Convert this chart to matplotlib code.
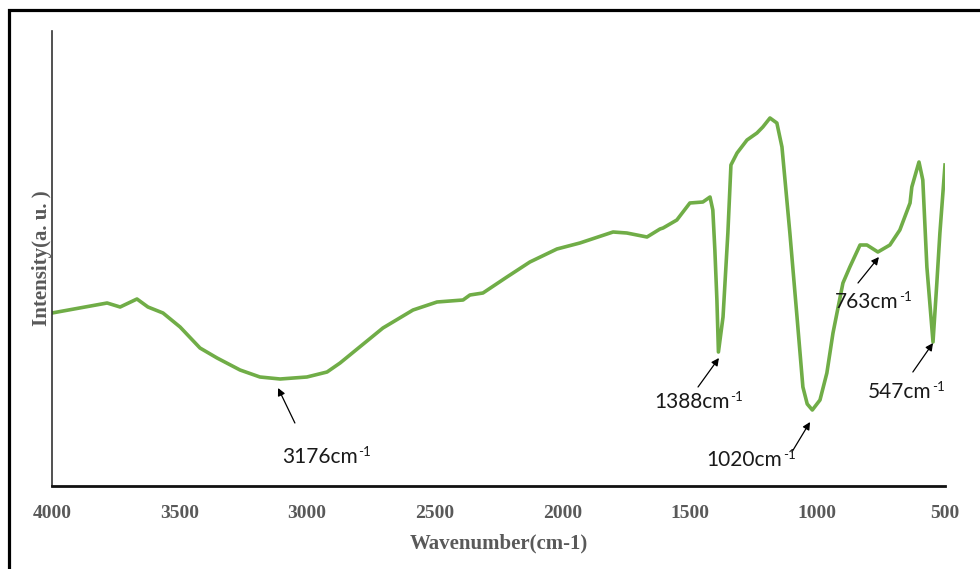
import matplotlib
matplotlib.use("Agg")
import matplotlib.pyplot as plt
from matplotlib.patches import Rectangle

# FTIR spectrum (wavenumber in cm-1, intensity in a.u.)
wavenumber = [4000, 3784, 3733, 3667, 3624, 3565, 3498, 3420, 3353, 3263,
              3185, 3106, 3001, 2922, 2871, 2703, 2585, 2491, 2389, 2362,
              2311, 2217, 2127, 2021, 1931, 1801, 1747, 1668, 1617, 1605,
              1551, 1500, 1449, 1421, 1410, 1402, 1394, 1388, 1370, 1351,
              1339, 1315, 1276, 1237, 1214, 1186, 1159, 1139, 1108, 1080,
              1057, 1040, 1020, 990, 963, 939, 900, 873, 833, 806,
              763, 716, 677, 637, 630, 602, 587, 571, 547, 532,
              520, 500]
intensity = [173, 183, 179, 187, 179, 173, 159, 138, 128, 116,
             109, 107, 109, 114, 123, 158, 176, 184, 186, 191,
             193, 209, 224, 237, 243, 254, 253, 249, 257, 258,
             266, 283, 284, 289, 276, 236, 186, 134, 169, 253,
             321, 333, 346, 353, 359, 368, 363, 339, 253, 169,
             99, 82, 76, 86, 113, 153, 203, 219, 241, 241,
             234, 241, 256, 283, 299, 324, 306, 219, 144, 203,
             253, 321]

# peak labels: (label, arrow head, arrow tail, text centre)
peak_labels = ["3176", "1388", "1020", "763", "547"]
arrow_heads = [(3114, 98), (1386, 128), (1029, 64), (759, 229), (547, 143)]
arrow_tails = [(3048, 63), (1468, 99), (1100, 34), (841, 203), (626, 114)]
text_pos = [(2950, 29), (1493, 84), (1286, 26), (808, 184), (679, 94)]

W, H = 980, 569
fig = plt.figure(figsize=(W / 100, H / 100), dpi=100)
ax = fig.add_axes([52 / W, 1 - 486 / H, (945 - 52) / W, (486 - 31) / H])

ax.plot(wavenumber, intensity, color="#70ad47", lw=2.6, solid_joinstyle="round")
ax.set_xlim(4000, 500)
ax.set_ylim(0, 455)

for lab, head, tail, pos in zip(peak_labels, arrow_heads, arrow_tails, text_pos):
    ax.annotate("", xy=head, xytext=tail,
                arrowprops=dict(arrowstyle="-|>", color="black", lw=0.9,
                                mutation_scale=11, shrinkA=0, shrinkB=0))
    t = ax.text(pos[0], pos[1], lab + "cm", ha="center", va="center",
                fontsize=15, family="Lato", color="#1a1a1a")
    # small "-1" superscript right after the unit
    ax.annotate("-1", xy=(1, 1), xycoords=t, xytext=(0.5, 1), textcoords="offset points",
                ha="left", va="top", fontsize=9.5, family="Lato", color="#1a1a1a")

for side in ["top", "right"]:
    ax.spines[side].set_visible(False)
ax.spines["left"].set_color("#333333")
ax.spines["left"].set_linewidth(1.2)
ax.spines["bottom"].set_color("#111111")
ax.spines["bottom"].set_linewidth(2)

ax.set_xticks([4000, 3500, 3000, 2500, 2000, 1500, 1000, 500])
ax.set_yticks([])
ax.tick_params(axis="x", length=0, pad=14)
for t in ax.get_xticklabels():
    t.set_fontfamily("Liberation Serif")
    t.set_fontweight("bold")
    t.set_fontsize(14)
    t.set_color("#595959")

ax.set_xlabel("Wavenumber(cm-1)", family="Liberation Serif", fontweight="bold",
              fontsize=15, color="#595959", labelpad=8)
ax.set_ylabel("Intensity(a. u. )", family="Liberation Serif", fontweight="bold",
              fontsize=15, color="#595959", labelpad=0)

# black frame around the picture, cropped at right and bottom
fig.patches.append(Rectangle((8.5 / W, -0.1), 1.2, 1 - 9.5 / H + 0.1,
                             transform=fig.transFigure, fill=False,
                             edgecolor="black", lw=2.3))

fig.savefig("out.png", dpi=100)
